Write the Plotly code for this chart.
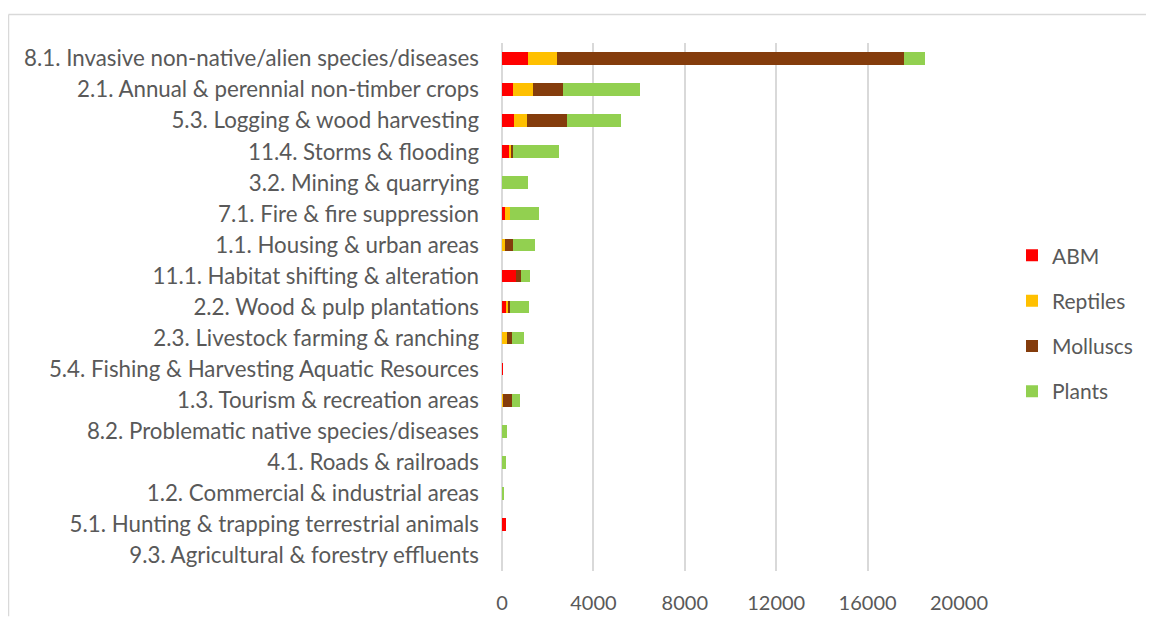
import plotly.graph_objects as go

# Threats (top to bottom as in the chart)
threats = [
    "8.1. Invasive non-native/alien species/diseases",
    "2.1. Annual & perennial non-timber crops",
    "5.3. Logging & wood harvesting",
    "11.4. Storms & flooding",
    "3.2. Mining & quarrying",
    "7.1. Fire & fire suppression",
    "1.1. Housing & urban areas",
    "11.1. Habitat shifting & alteration",
    "2.2. Wood & pulp plantations",
    "2.3. Livestock farming & ranching",
    "5.4. Fishing & Harvesting Aquatic Resources",
    "1.3. Tourism & recreation areas",
    "8.2. Problematic native species/diseases",
    "4.1. Roads & railroads",
    "1.2. Commercial & industrial areas",
    "5.1. Hunting & trapping terrestrial animals",
    "9.3. Agricultural & forestry effluents",
]

abm = [1140, 480, 530, 310, 0, 130, 0, 615, 175, 0, 40, 0, 0, 0, 0, 160, 0]
reptiles = [1280, 880, 555, 100, 0, 220, 130, 0, 90, 200, 0, 40, 0, 0, 0, 0, 0]
molluscs = [15160, 1290, 1745, 70, 0, 0, 350, 220, 85, 240, 0, 385, 0, 0, 0, 0, 0]
plants = [940, 3390, 2385, 1995, 1130, 1280, 970, 380, 810, 510, 0, 350, 235, 175, 60, 0, 0]

series = [
    ("ABM", abm, "#FF0000"),
    ("Reptiles", reptiles, "#FFC000"),
    ("Molluscs", molluscs, "#843C0C"),
    ("Plants", plants, "#92D050"),
]

x_ticks = [0, 4000, 8000, 12000, 16000, 20000]

font_name = "Lato"
grey = "#595959"
border = "#D9D9D9"

# plot area in figure pixels (page is offset by the 8px body margin)
L, T, W, H = 494, 35, 457, 537

fig = go.Figure()
for name, vals, col in series:
    fig.add_trace(go.Bar(
        y=threats, x=vals, name=name, orientation="h",
        marker=dict(color=col, line=dict(width=0)),
        legendgroup=name,
    ))

fig.update_layout(
    barmode="stack",
    bargap=0.59,
    width=1146, height=618,
    margin=dict(l=L, r=1146 - L - W, t=T, b=618 - T - H),
    paper_bgcolor="white", plot_bgcolor="white",
    font=dict(family=font_name, size=22, color=grey),
    legend=dict(
        x=(1004 - L) / W, y=1 - (320.5 - T) / H, xanchor="left", yanchor="middle",
        traceorder="grouped", tracegroupgap=15,
        font=dict(size=21, color=grey),
        itemwidth=30,
    ),
    shapes=[
        dict(type="line", xref="paper", yref="paper",
             x0=(0.5 - L) / W, x1=(1146 - L) / W,
             y0=1 + (T - 6) / H, y1=1 + (T - 6) / H,
             line=dict(color=border, width=1.5)),
        dict(type="line", xref="paper", yref="paper",
             x0=(0.5 - L) / W, x1=(0.5 - L) / W,
             y0=1 + (T - 6) / H, y1=-(618 - T - H) / H,
             line=dict(color=border, width=1.5)),
    ],
)

fig.update_xaxes(
    range=[0, 20000], tickvals=x_ticks, ticktext=[str(t) for t in x_ticks],
    showgrid=True, gridcolor=border, gridwidth=2,
    zeroline=True, zerolinecolor=border, zerolinewidth=2,
    showline=False, ticks="", ticklabelstandoff=18,
    tickfont=dict(size=20, color=grey),
)
fig.update_yaxes(
    autorange="reversed", showgrid=False, showline=False, ticks="",
    ticklabelstandoff=22, tickfont=dict(size=22.3, color=grey),
)

fig.write_html("out.html")
